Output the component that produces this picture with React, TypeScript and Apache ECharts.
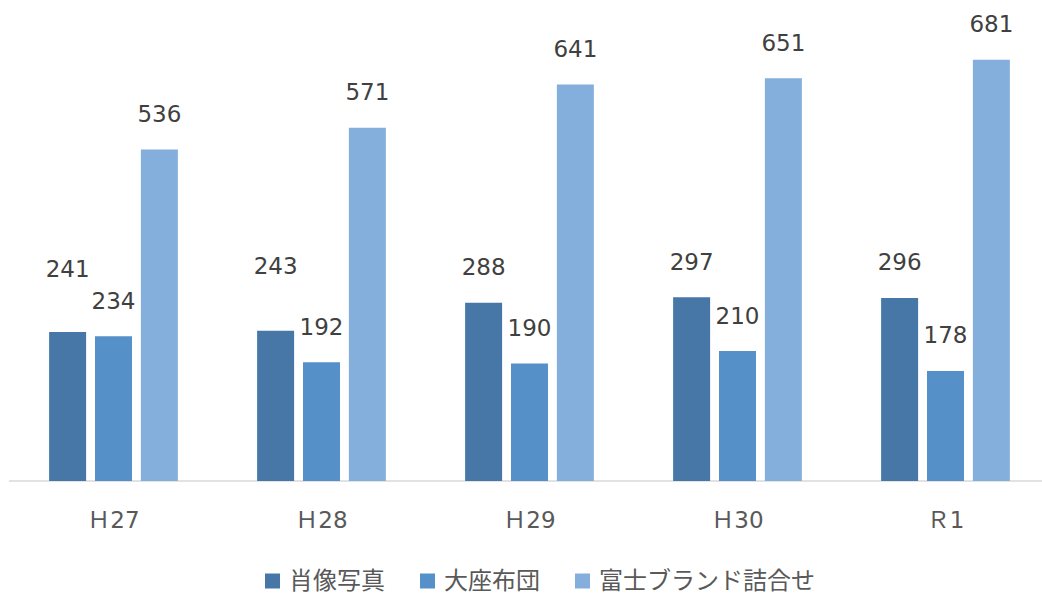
import React, { useEffect, useRef } from "react";
import * as echarts from "echarts";

const categories = ["Ｈ27", "Ｈ28", "Ｈ29", "Ｈ30", "Ｒ1"];
const seriesNames = ["肖像写真", "大座布団", "富士ブランド詰合せ"];
const portraitValues = [241, 243, 288, 297, 296];
const cushionValues = [234, 192, 190, 210, 178];
const giftValues = [536, 571, 641, 651, 681];
const colors = ["#4677A7", "#5591C8", "#84AEDC"];
// labels lifted manually in the original
const liftedPortraitIdx = [0, 1];

const FONT = "'DejaVu Sans', 'Noto Sans CJK JP', sans-serif";

export default function App() {
  const ref = useRef<HTMLDivElement>(null);
  useEffect(() => {
    if (!ref.current) return;
    const chart = echarts.init(ref.current, null, { renderer: "svg" });
    const mk = (name: string, vals: number[], color: string, si: number) => ({
      name,
      type: "bar",
      barWidth: 37,
      barGap: "24%",
      itemStyle: { color },
      label: {
        show: true,
        position: "top",
        distance: 24,
        fontSize: 23,
        color: "#404040",
        fontFamily: FONT,
      },
      data: vals.map((v, i) =>
        si === 0 && liftedPortraitIdx.includes(i)
          ? { value: v, label: { distance: 24 + (i === 0 ? 27 : 29) } }
          : v
      ),
    });
    chart.setOption({
      animation: false,
      color: colors,
      textStyle: { fontFamily: FONT },
      grid: { left: 9.5, width: 1040, top: 48, bottom: 114, outerBoundsMode: "none" },
      legend: {
        data: seriesNames,
        top: 564,
        left: 260,
        icon: "rect",
        itemWidth: 15,
        itemHeight: 15,
        itemGap: 35,
        textStyle: { fontSize: 24, color: "#595959", fontFamily: FONT, padding: [0, 0, 0, 4] },
      },
      xAxis: {
        type: "category",
        data: categories,
        axisLine: { lineStyle: { color: "#D9D9D9", width: 1.5 } },
        axisTick: { show: false },
        axisLabel: { color: "#595959", fontSize: 23, margin: 27, fontFamily: FONT },
      },
      yAxis: {
        type: "value",
        min: 0,
        max: 700,
        show: false,
        splitLine: { show: false },
      },
      series: [
        mk(seriesNames[0], portraitValues, colors[0], 0),
        mk(seriesNames[1], cushionValues, colors[1], 1),
        mk(seriesNames[2], giftValues, colors[2], 2),
      ],
    });
    return () => chart.dispose();
  }, []);
  return (
    <div
      ref={ref}
      style={{ position: "absolute", left: 0, top: 0, width: 1042, height: 595, background: "#fff" }}
    />
  );
}
